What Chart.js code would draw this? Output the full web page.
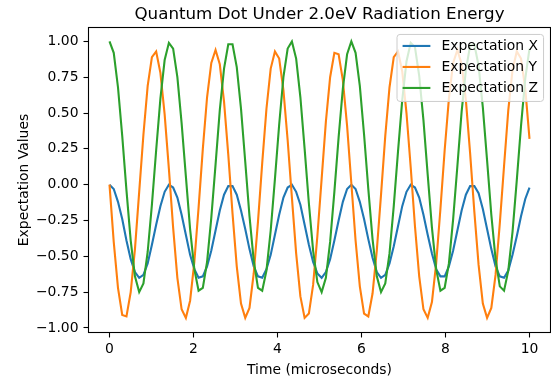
<!DOCTYPE html>
<html>
<head>
<meta charset="utf-8">
<title>Quantum Dot Under 2.0eV Radiation Energy</title>
<script src="https://cdn.jsdelivr.net/npm/chart.js@4.4.1/dist/chart.umd.min.js"></script>
<style>
  html, body { margin: 0; padding: 0; background: #fff; }
  #myChart { display: block; }
</style>
</head>
<body>
<canvas id="myChart" width="551" height="380"></canvas>
<script>
// time axis (microseconds), 100 samples
const timeUs = [
  0, 0.101, 0.202, 0.303, 0.404, 0.505, 0.606, 0.707, 0.808, 0.909,
  1.010, 1.111, 1.212, 1.313, 1.414, 1.515, 1.616, 1.717, 1.818, 1.919,
  2.020, 2.121, 2.222, 2.323, 2.424, 2.525, 2.626, 2.727, 2.828, 2.929,
  3.030, 3.131, 3.232, 3.333, 3.434, 3.535, 3.636, 3.737, 3.838, 3.939,
  4.040, 4.141, 4.242, 4.343, 4.444, 4.545, 4.646, 4.747, 4.848, 4.949,
  5.051, 5.152, 5.253, 5.354, 5.455, 5.556, 5.657, 5.758, 5.859, 5.960,
  6.061, 6.162, 6.263, 6.364, 6.465, 6.566, 6.667, 6.768, 6.869, 6.970,
  7.071, 7.172, 7.273, 7.374, 7.475, 7.576, 7.677, 7.778, 7.879, 7.980,
  8.081, 8.182, 8.283, 8.384, 8.485, 8.586, 8.687, 8.788, 8.889, 8.990,
  9.091, 9.192, 9.293, 9.394, 9.495, 9.596, 9.697, 9.798, 9.899, 10.0
];

const expX = [
  0, -0.03, -0.12, -0.24, -0.39, -0.52, -0.61, -0.65, -0.63, -0.55,
  -0.42, -0.28, -0.15, -0.05, 0.00, -0.02, -0.09, -0.21, -0.35, -0.49,
  -0.59, -0.65, -0.64, -0.57, -0.46, -0.32, -0.18, -0.07, -0.01, -0.01,
  -0.07, -0.18, -0.31, -0.45, -0.57, -0.64, -0.65, -0.59, -0.49, -0.35,
  -0.21, -0.09, -0.02, 0.00, -0.05, -0.14, -0.28, -0.42, -0.54, -0.62,
  -0.65, -0.61, -0.52, -0.39, -0.25, -0.12, -0.03, 0.00, -0.03, -0.12,
  -0.24, -0.38, -0.51, -0.61, -0.65, -0.63, -0.55, -0.43, -0.29, -0.15,
  -0.05, 0.00, -0.02, -0.09, -0.21, -0.35, -0.48, -0.59, -0.64, -0.64,
  -0.57, -0.46, -0.32, -0.18, -0.07, -0.01, -0.01, -0.06, -0.17, -0.31,
  -0.45, -0.57, -0.64, -0.65, -0.60, -0.49, -0.36, -0.22, -0.10, -0.02
];

const expY = [
  0, -0.40, -0.72, -0.91, -0.92, -0.75, -0.45, -0.05, 0.35, 0.69,
  0.89, 0.93, 0.78, 0.49, 0.11, -0.30, -0.65, -0.87, -0.93, -0.81,
  -0.54, -0.16, 0.25, 0.61, 0.85, 0.94, 0.84, 0.58, 0.21, -0.20,
  -0.57, -0.83, -0.93, -0.86, -0.62, -0.26, 0.15, 0.53, 0.81, 0.93,
  0.88, 0.66, 0.31, -0.09, -0.48, -0.78, -0.93, -0.90, -0.70, -0.36,
  0.04, 0.44, 0.75, 0.92, 0.91, 0.73, 0.41, 0.01, -0.39, -0.71,
  -0.90, -0.92, -0.76, -0.46, -0.07, 0.34, 0.68, 0.89, 0.93, 0.79,
  0.50, 0.12, -0.29, -0.64, -0.87, -0.93, -0.82, -0.55, -0.17, 0.24,
  0.60, 0.85, 0.94, 0.84, 0.59, 0.22, -0.19, -0.56, -0.83, -0.93,
  -0.86, -0.63, -0.27, 0.13, 0.52, 0.80, 0.93, 0.88, 0.67, 0.32
];

const expZ = [
  1.00, 0.92, 0.68, 0.34, -0.04, -0.39, -0.64, -0.75, -0.69, -0.47,
  -0.14, 0.24, 0.60, 0.87, 0.99, 0.95, 0.75, 0.43, 0.06, -0.31,
  -0.59, -0.74, -0.72, -0.54, -0.23, 0.14, 0.52, 0.81, 0.98, 0.98,
  0.82, 0.53, 0.16, -0.22, -0.53, -0.72, -0.74, -0.60, -0.32, 0.04,
  0.42, 0.75, 0.95, 1.00, 0.88, 0.61, 0.25, -0.13, -0.46, -0.68,
  -0.75, -0.65, -0.40, -0.05, 0.33, 0.67, 0.91, 1.00, 0.92, 0.69,
  0.35, -0.03, -0.38, -0.64, -0.75, -0.69, -0.48, -0.15, 0.23, 0.59,
  0.86, 0.99, 0.96, 0.76, 0.45, 0.07, -0.30, -0.59, -0.74, -0.72,
  -0.55, -0.24, 0.13, 0.51, 0.80, 0.97, 0.98, 0.83, 0.54, 0.17,
  -0.21, -0.52, -0.71, -0.74, -0.60, -0.33, 0.03, 0.41, 0.74, 0.95
];

const seriesLabels = ['Expectation X', 'Expectation Y', 'Expectation Z'];
const seriesColors = ['#1f77b4', '#ff7f0e', '#2ca02c'];
const xTicks = [0, 2, 4, 6, 8, 10];
const yTicks = [-1, -0.75, -0.5, -0.25, 0, 0.25, 0.5, 0.75, 1];

const chartTitle = 'Quantum Dot Under 2.0eV Radiation Energy';
const xTitle = 'Time (microseconds)';
const yTitle = 'Expectation Values';

const FONT = 'DejaVu Sans';
const FS = 13.9;

const toPoints = (values) => timeUs.map((t, i) => ({ x: t, y: values[i] }));

// box around the plot, titles and the legend inside the axes (upper right)
const framePlugin = {
  id: 'frame',
  afterDatasetsDraw(chart) {
    const { ctx, chartArea: a } = chart;
    ctx.save();
    ctx.strokeStyle = '#000';
    ctx.lineWidth = 1.1;
    ctx.strokeRect(a.left, a.top, a.right - a.left, a.bottom - a.top);
    ctx.restore();
  },
  afterDraw(chart) {
    const { ctx, chartArea: a } = chart;
    const cx = (a.left + a.right) / 2;

    ctx.save();
    ctx.fillStyle = '#000';
    ctx.textAlign = 'center';
    ctx.textBaseline = 'alphabetic';
    ctx.font = `16.7px "${FONT}"`;
    ctx.fillText(chartTitle, cx, 19);
    ctx.font = `${FS}px "${FONT}"`;
    ctx.fillText(xTitle, cx, 374);
    ctx.translate(24, (a.top + a.bottom) / 2);
    ctx.rotate(-Math.PI / 2);
    ctx.textBaseline = 'middle';
    ctx.fillText(yTitle, 0, 0);
    ctx.restore();

    // legend
    ctx.save();
    ctx.font = `${FS}px "${FONT}"`;
    const textW = Math.max(...seriesLabels.map(l => ctx.measureText(l).width));
    const pad = 0.4 * FS, handle = 2 * FS, gap = 0.8 * FS, rowH = 21;
    const w = pad + handle + gap + textW + pad;
    const h = 67;
    const right = a.right - 0.5 * FS;
    const left = right - w;
    const top = a.top + 0.5 * FS;
    ctx.beginPath();
    ctx.roundRect(left, top, w, h, 3);
    ctx.fillStyle = 'rgba(255,255,255,0.8)';
    ctx.fill();
    ctx.strokeStyle = '#cccccc';
    ctx.lineWidth = 1;
    ctx.stroke();

    ctx.textAlign = 'left';
    ctx.textBaseline = 'middle';
    seriesLabels.forEach((label, i) => {
      const y = top + 11.5 + i * rowH;
      ctx.beginPath();
      ctx.moveTo(left + pad, y);
      ctx.lineTo(left + pad + handle, y);
      ctx.strokeStyle = seriesColors[i];
      ctx.lineWidth = 2.1;
      ctx.stroke();
      ctx.fillStyle = '#000';
      ctx.fillText(label, left + pad + handle + gap, y);
    });
    ctx.restore();
  }
};

const tickFont = { family: FONT, size: FS };

new Chart(document.getElementById('myChart'), {
  type: 'line',
  data: {
    datasets: [
      { label: seriesLabels[0], data: toPoints(expX), borderColor: seriesColors[0], order: 2 },
      { label: seriesLabels[1], data: toPoints(expY), borderColor: seriesColors[1], order: 1 },
      { label: seriesLabels[2], data: toPoints(expZ), borderColor: seriesColors[2], order: 0 }
    ]
  },
  options: {
    responsive: false,
    animation: false,
    devicePixelRatio: 1,
    layout: { padding: { top: 27.5, right: 0.5, left: 0, bottom: 0 } },
    elements: {
      point: { radius: 0 },
      line: { borderWidth: 2.1, tension: 0, fill: false }
    },
    plugins: {
      legend: { display: false },
      tooltip: { enabled: false },
      title: { display: false }
    },
    scales: {
      x: {
        type: 'linear',
        min: -0.5,
        max: 10.5,
        afterBuildTicks: (s) => { s.ticks = xTicks.map(v => ({ value: v })); },
        afterFit: (s) => { s.height = 47.5; },
        ticks: { color: '#000', font: tickFont, padding: 4, maxRotation: 0, autoSkip: false, callback: (v) => String(v) },
        grid: { drawOnChartArea: false, drawTicks: true, tickLength: 5, tickColor: '#000', tickWidth: 1.1 },
        border: { display: false }
      },
      y: {
        min: -1.032,
        max: 1.097,
        afterBuildTicks: (s) => { s.ticks = yTicks.map(v => ({ value: v })); },
        afterFit: (s) => { s.width = 88.5; },
        ticks: { color: '#000', font: tickFont, padding: 5, autoSkip: false, callback: (v) => v.toFixed(2).replace('-', '\u2212') },
        grid: { drawOnChartArea: false, drawTicks: true, tickLength: 5, tickColor: '#000', tickWidth: 1.1 },
        border: { display: false }
      }
    }
  },
  plugins: [framePlugin]
});
</script>
</body>
</html>
